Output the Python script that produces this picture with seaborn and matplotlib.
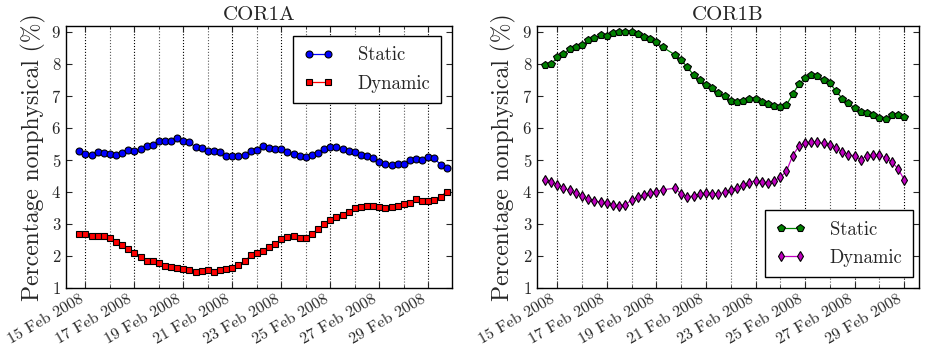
import matplotlib
matplotlib.use("Agg")
import matplotlib.pyplot as plt
import matplotlib.dates as mdates
import pandas as pd
import seaborn as sns

# ---------------- data ----------------
cor1a_times = pd.date_range("2008-02-14 18:00", periods=61, freq="6h")
cor1a_static = [5.26, 5.18, 5.15, 5.24, 5.20, 5.17, 5.16, 5.22, 5.31, 5.28,
                5.34, 5.44, 5.47, 5.59, 5.58, 5.60, 5.67, 5.58, 5.55, 5.39,
                5.37, 5.27, 5.27, 5.23, 5.11, 5.11, 5.12, 5.16, 5.28, 5.30,
                5.42, 5.36, 5.34, 5.34, 5.23, 5.19, 5.12, 5.08, 5.16, 5.22,
                5.33, 5.41, 5.40, 5.32, 5.28, 5.23, 5.16, 5.11, 5.05, 4.94,
                4.87, 4.84, 4.88, 4.88, 4.99, 5.03, 5.00, 5.08, 5.04, 4.85, 4.74]
cor1a_dynamic = [2.68, 2.69, 2.61, 2.62, 2.62, 2.55, 2.42, 2.34, 2.21, 2.09,
                 1.95, 1.84, 1.82, 1.78, 1.69, 1.65, 1.61, 1.59, 1.54, 1.50,
                 1.52, 1.55, 1.50, 1.55, 1.57, 1.62, 1.72, 1.82, 2.01, 2.09,
                 2.16, 2.26, 2.38, 2.51, 2.60, 2.61, 2.54, 2.54, 2.69, 2.83,
                 2.98, 3.11, 3.21, 3.27, 3.37, 3.48, 3.53, 3.55, 3.55, 3.52,
                 3.50, 3.51, 3.54, 3.63, 3.66, 3.76, 3.71, 3.72, 3.73, 3.85, 3.99]

_b_all = pd.date_range("2008-02-14 12:00", periods=59, freq="6h")
cor1b_times = _b_all.delete(20)  # one missing sample
cor1b_static = [7.95, 7.99, 8.20, 8.30, 8.47, 8.52, 8.58, 8.73, 8.79, 8.90,
                8.87, 8.97, 9.00, 9.00, 8.99, 8.93, 8.85, 8.76, 8.67, 8.52,
                8.28, 8.12, 7.89, 7.65, 7.48, 7.35, 7.23, 7.08, 7.00, 6.84,
                6.81, 6.83, 6.89, 6.90, 6.80, 6.75, 6.69, 6.64, 6.71, 7.05,
                7.36, 7.55, 7.66, 7.63, 7.50, 7.39, 7.15, 6.91, 6.77, 6.62,
                6.49, 6.47, 6.40, 6.31, 6.28, 6.39, 6.40, 6.35]
cor1b_dynamic = [4.37, 4.29, 4.22, 4.12, 4.04, 3.95, 3.86, 3.76, 3.72, 3.67,
                 3.64, 3.57, 3.56, 3.60, 3.74, 3.83, 3.89, 3.95, 4.00, 4.06,
                 4.11, 3.93, 3.84, 3.87, 3.93, 3.96, 3.94, 3.93, 3.98, 4.04,
                 4.11, 4.20, 4.28, 4.35, 4.29, 4.28, 4.34, 4.45, 4.64, 5.13,
                 5.42, 5.52, 5.56, 5.54, 5.51, 5.45, 5.37, 5.25, 5.16, 5.12,
                 5.00, 5.13, 5.14, 5.15, 5.05, 4.93, 4.72, 4.38]

titles = ["COR1A", "COR1B"]
series_labels = ["Static", "Dynamic"]
y_label = "Percentage nonphysical (%)"
y_ticks = [1, 2, 3, 4, 5, 6, 7, 8, 9]
labelled_days = [15, 17, 19, 21, 23, 25, 27, 29]

# ---------------- style ----------------
sns.set_style("ticks")
plt.rcParams.update({
    "font.family": ["cmr10", "DejaVu Serif"],
    "axes.unicode_minus": False,
    "axes.formatter.use_mathtext": True,
    "xtick.direction": "in",
    "ytick.direction": "in",
    "xtick.top": True,
    "ytick.right": True,
    "axes.edgecolor": "black",
    "axes.linewidth": 1.0,
})

fig = plt.figure(figsize=(9.26, 3.48), dpi=100)
ax1 = fig.add_axes([0.0713, 0.1733, 0.4168, 0.752])
ax2 = fig.add_axes([0.5799, 0.1733, 0.4125, 0.752])

def draw(ax, times, static, dynamic, c_s, m_s, ms_s, c_d, m_d, ms_d):
    df_s = pd.DataFrame({"t": times, "v": static})
    df_d = pd.DataFrame({"t": times, "v": dynamic})
    sns.lineplot(data=df_s, x="t", y="v", ax=ax, color=c_s, marker=m_s,
                 markersize=ms_s, markeredgecolor="black", markeredgewidth=0.8,
                 linewidth=0.9, label=series_labels[0])
    sns.lineplot(data=df_d, x="t", y="v", ax=ax, color=c_d, marker=m_d,
                 markersize=ms_d, markeredgecolor="black", markeredgewidth=0.8,
                 linewidth=0.9, label=series_labels[1])

draw(ax1, cor1a_times, cor1a_static, cor1a_dynamic, "#0000ff", "o", 5.0, "#ff0000", "s", 4.6)
draw(ax2, cor1b_times, cor1b_static, cor1b_dynamic, "#008000", "p", 5.4, "#bf00bf", "d", 5.6)

xlims = [(pd.Timestamp("2008-02-14 05:00"), pd.Timestamp("2008-02-29 23:15")),
         (pd.Timestamp("2008-02-14 04:20"), pd.Timestamp("2008-02-29 14:20"))]

for ax, title, xl in zip([ax1, ax2], titles, xlims):
    ax.set_xlim(*xl)
    ax.set_ylim(1, 9.18)
    ax.set_yticks(y_ticks)
    ax.set_title(title, fontsize=15, pad=4)
    ax.set_ylabel(y_label, fontsize=17, labelpad=4)
    ax.set_xlabel("")
    ax.xaxis.set_major_locator(mdates.DayLocator(bymonthday=labelled_days))
    ax.xaxis.set_minor_locator(mdates.DayLocator())
    ax.xaxis.set_major_formatter(mdates.DateFormatter("%d %b %Y"))
    ax.grid(True, axis="x", which="major", linestyle=":", color="black", linewidth=0.8)
    ax.grid(True, axis="x", which="minor", linestyle=":", color="0.35", linewidth=0.8)
    ax.grid(False, axis="y")
    ax.tick_params(axis="both", which="major", length=4, width=0.8, labelsize=12)
    ax.tick_params(axis="x", which="major", labelsize=11.5)
    ax.tick_params(axis="both", which="minor", length=2, width=0.6)
    for lab in ax.get_xticklabels():
        lab.set_rotation(30)
        lab.set_ha("right")
    for s in ax.spines.values():
        s.set_visible(True)
        s.set_color("black")

leg1 = ax1.legend(loc="upper right", bbox_to_anchor=(1 - 11 / 386, 1 - 10 / 262),
                  borderaxespad=0, numpoints=2, fontsize=13.5, handlelength=1.6,
                  fancybox=False, framealpha=1, edgecolor="black",
                  labelspacing=0.55, borderpad=0.55, handletextpad=1.3)
leg2 = ax2.legend(loc="lower right", bbox_to_anchor=(1 - 6 / 382, 10.5 / 262),
                  borderaxespad=0, numpoints=2, fontsize=13.5, handlelength=1.6,
                  fancybox=False, framealpha=1, edgecolor="black",
                  labelspacing=0.55, borderpad=0.55, handletextpad=1.3)
for leg in (leg1, leg2):
    leg.get_frame().set_linewidth(1.0)

fig.savefig("out.png", dpi=100)
